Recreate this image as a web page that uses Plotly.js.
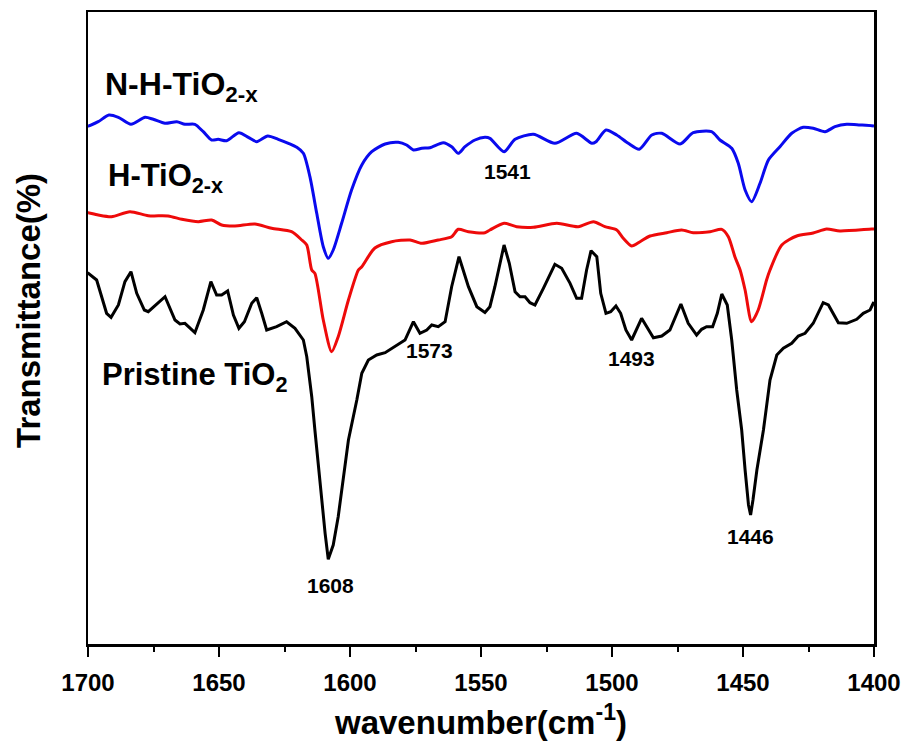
<!DOCTYPE html>
<html>
<head>
<meta charset="utf-8">
<script src="https://cdn.plot.ly/plotly-3.0.1.min.js"></script>
<style>html,body{margin:0;padding:0;background:#fff;}#chart{width:905px;height:748px;}</style>
</head>
<body>
<div id="chart"></div>
<script>
// N-H-TiO2-x (blue)
const blueX = [1700,1699.9,1696.1,1692.0,1688.4,1683.6,1678.2,1675.1,1670.6,1666.1,1663.0,1659.2,1656.0,1652.8,1650.3,1647.1,1642.4,1638.8,1635.6,1631.4,1627.4,1623.5,1620.3,1617.8,1615.3,1612.7,1610.2,1608.3,1606.4,1603.2,1599.4,1595.5,1591.7,1586.6,1581.6,1578.4,1575.8,1572.6,1569.5,1564.4,1561.2,1558.7,1556.1,1552.3,1548.5,1546.6,1541.2,1537.0,1530.0,1521.8,1513.5,1507.7,1506.1,1502.3,1498.2,1493.8,1489.6,1484.8,1481.0,1474.0,1469.0,1462.0,1458.8,1454.3,1451.8,1449.2,1446.7,1443.5,1440.3,1435.9,1431.4,1427.0,1423.2,1418.7,1414.9,1410.4,1405.3,1400.9,1400];
const blueY = [518,518,522.3,529,526.7,519.7,526.7,524.7,520.7,522.3,519.7,519.7,512.3,504,504.7,503.3,511.3,506.7,502.3,508,504.7,500.7,496.7,490.7,467.3,430.7,397.3,385.7,394,420.7,454,479,492.3,500,501.7,499,494,495.7,496.3,501.3,497.3,490.7,497.3,504,506.7,505.7,492.3,504.7,509.7,500.7,510.7,500.7,502.3,514,509,500.7,494.7,509,510.7,500,511.3,512.3,504,495.7,480.7,454,442.3,460.7,484,497.3,510.7,516.7,515.7,512.3,517.3,519.7,519,518.3,518];

// H-TiO2-x (red)
const redX = [1700,1699.9,1696.1,1691.0,1684.0,1677.0,1669.4,1664.2,1657.9,1652.8,1649.0,1643.9,1636.3,1629.9,1622.3,1618.4,1616.5,1614.6,1613.4,1610.2,1607.0,1604.5,1600.6,1596.8,1595.5,1590.5,1584.1,1577.1,1572.6,1566.3,1561.2,1558.7,1554.8,1548.5,1546.6,1541.2,1536.4,1530.0,1521.1,1512.9,1507.1,1502.7,1498.2,1495.7,1492.5,1489.3,1485.5,1479.1,1473.4,1469.0,1462.6,1458.1,1455.6,1453.1,1451.1,1449.2,1446.7,1444.2,1441.0,1439.7,1435.2,1429.5,1423.2,1418.1,1413.0,1400.9,1400];
const redY = [431.3,431.3,429,427.3,432.3,428.3,428,424.7,422.3,424,419,418,420,415.7,412.3,404,399,374,370.7,324,292.3,307.3,344,374,377.3,396,402.3,404,400.7,404,407.3,414.7,412.3,411.3,414,420.7,417.3,416.7,420.7,417.3,422.3,417.3,414,405.7,398,402.3,408,411.3,414,411.3,412.3,414.7,407.3,387.3,374,354,322.3,334,364,374,399,408,411,415,413,415,415];

// Pristine TiO2 (black)
const blackX = [1700,1699.9,1696.7,1692.9,1691.2,1688.4,1685.9,1683.6,1681.4,1678.5,1677.0,1670.6,1666.8,1664.9,1663.0,1659.2,1656.0,1653.1,1650.9,1649.0,1646.7,1644.5,1642.4,1640.3,1637.5,1635.6,1633.7,1631.8,1628.0,1624.2,1621.0,1617.8,1616.5,1614.6,1613.4,1612.7,1610.8,1609.5,1608.3,1606.4,1604.5,1602.6,1600.6,1597.4,1595.5,1593.0,1589.8,1586.6,1582.8,1579.0,1575.8,1573.3,1570.7,1568.8,1566.3,1563.7,1561.2,1558.4,1554.8,1551.6,1548.5,1546.6,1544.7,1541.2,1539.2,1537.0,1535.1,1533.2,1531.3,1529.4,1526.2,1521.8,1519.2,1516.0,1513.5,1511.6,1509.7,1508.0,1505.8,1504.3,1502.3,1500.5,1498.5,1496.7,1494.7,1492.5,1488.7,1484.2,1481.0,1477.9,1473.7,1470.9,1467.7,1465.8,1463.9,1461.6,1459.8,1458.1,1456.0,1454.3,1452.4,1450.5,1449.2,1447.9,1447.1,1446.2,1444.7,1442.2,1439.7,1437.1,1434.6,1431.4,1428.9,1426.3,1423.2,1419.4,1417.4,1413.6,1410.4,1406.6,1404.1,1401.5,1400.3,1400];
const blackY = [370.7,370.7,364,330.7,326.7,339,362.3,372.3,350.7,334,332.3,347.3,324,320,320.7,311.3,334,362.3,349,349,353,329,315.7,322.3,340.7,346.3,330.7,314,317.3,322.3,315.7,304,287.3,247.3,214,194,144,110.7,84.7,99,127.3,167.3,204,244,270.7,284,289,291.3,297.3,304,322.3,310.7,314,319,317.3,322.3,357.3,387.3,357.3,337.3,331.5,337.3,357.3,399,380.7,352.3,347.3,347.3,341.3,339,355.7,379.7,375.7,360.7,345.7,345.7,374,393.3,387.3,350.7,330.7,332.3,338,330.7,314,304,325.7,306.3,308,314,340,320.7,309,314.7,317.3,317.3,330.7,350,339,304,254,214,174,139,129,144,174,214,264,289,295.7,300.7,308,310.7,320.7,341.3,339,321.3,320.7,324.7,330.7,334,340.7,342];

const tickVals = [1700,1650,1600,1550,1500,1450,1400];
const tickText = ['1700','1650','1600','1550','1500','1450','1400'];

const seriesNames = ['N-H-TiO<sub>2-x</sub>','H-TiO<sub>2-x</sub>','Pristine TiO<sub>2</sub>'];
const peakLabels = ['1541','1573','1493','1608','1446'];
const xTitle = 'wavenumber(cm<sup>-1</sup>)';
const yTitle = 'Transmittance(%)';

const F = 'Liberation Sans, Arial, sans-serif';
const lw = 3;

const traces = [
  {x: blueX, y: blueY, mode:'lines', line:{color:'#0a0aee', width:lw, shape:'spline', smoothing:0.7}, name: seriesNames[0], hoverinfo:'skip'},
  {x: redX, y: redY, mode:'lines', line:{color:'#ee0a0a', width:lw, shape:'spline', smoothing:0.7}, name: seriesNames[1], hoverinfo:'skip'},
  {x: blackX, y: blackY, mode:'lines', line:{color:'#000000', width:lw}, name: seriesNames[2], hoverinfo:'skip'}
];

function ann(text, x, y, size, xanchor){
  return {text:text, x:x, y:y, xref:'x', yref:'y', showarrow:false, xanchor:xanchor||'center', yanchor:'middle',
          font:{family:F, size:size, color:'#000', weight:'bold'}};
}

const layout = {
  width:905, height:748,
  margin:{l:88, r:31, t:12, b:104},
  paper_bgcolor:'#fff', plot_bgcolor:'#fff',
  showlegend:false,
  xaxis:{
    range:[1700,1400], autorange:false,
    tickvals:tickVals, ticktext:tickText,
    ticks:'outside', ticklen:10, tickwidth:2, tickcolor:'#000',
    minor:{dtick:25, tick0:1400, ticks:'outside', ticklen:5, tickwidth:2, tickcolor:'#000'},
    showline:true, linewidth:2.5, linecolor:'#000', mirror:true,
    showgrid:false, zeroline:false,
    ticklabelstandoff:6,
    tickfont:{family:F, size:24, color:'#000', weight:'bold'},
    title:{text:xTitle, font:{family:F, size:33, color:'#000', weight:'bold'}, standoff:16}
  },
  yaxis:{
    range:[0,632], autorange:false,
    showticklabels:false, ticks:'',
    showline:true, linewidth:2.5, linecolor:'#000', mirror:true,
    showgrid:false, zeroline:false
  },
  annotations:[
    {text:yTitle, xref:'paper', yref:'paper', x:-0.0751, y:0.5285, xanchor:'center', yanchor:'middle',
     textangle:-90, showarrow:false, font:{family:F, size:33, color:'#000', weight:'bold'}},
    ann(seriesNames[0], 1694.3, 558, 32, 'left'),
    ann(seriesNames[1], 1693.1, 466, 31, 'left'),
    ann(seriesNames[2], 1695.4, 267, 31, 'left'),
    ann(peakLabels[0], 1539.7, 473, 21),
    ann(peakLabels[1], 1569.8, 294, 21),
    ann(peakLabels[2], 1492.4, 286, 21),
    ann(peakLabels[3], 1607.3, 59, 21),
    ann(peakLabels[4], 1447.3, 108, 21)
  ]
};

Plotly.newPlot('chart', traces, layout, {displayModeBar:false, staticPlot:true});
</script>
</body>
</html>
